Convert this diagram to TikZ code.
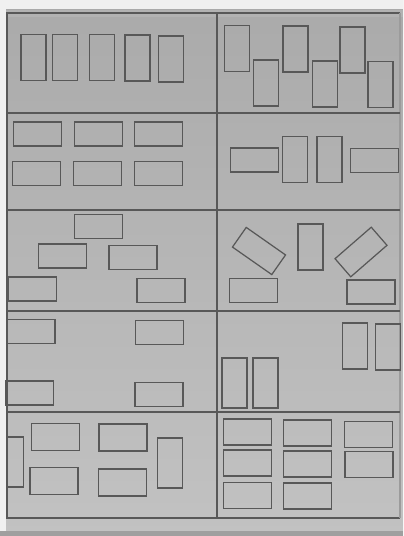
\documentclass[tikz,border=0pt]{standalone}
\usepackage{tikz}
\usetikzlibrary{positioning}
\definecolor{paper}{RGB}{170,170,170}
\definecolor{paperlow}{RGB}{194,194,194}
\definecolor{inkline}{RGB}{88,88,88}
\tikzset{
  % panel grid lines
  gridline/.style={draw=inkline, line width=0.8pt},
  % slots drawn on the sheet
  slotbox/.style={
    rectangle, draw=inkline, line width=0.7pt,
    inner sep=0pt, outer sep=0pt
  },
  tallbox/.style={slotbox, minimum width=0.5cm, minimum height=0.92cm},
  widebox/.style={slotbox, minimum width=0.96cm, minimum height=0.48cm}
}
\begin{document}
\begin{tikzpicture}[x=0.02cm, y=-0.02cm]
  \useasboundingbox (0,0) rectangle (403,536);

  % sheet and edges
  \fill[top color=paper, bottom color=paperlow] (0,0) rectangle (403,536);
  \fill[gray!60] (0,10) rectangle (403,17);
  \fill[gray!12] (0,0) rectangle (403,9);
  \fill[gray!12] (0,0) rectangle (6,536);
  \fill[gray!75] (0,531) rectangle (403,536);

  % frame and panels
  \draw[gridline] (400,13) -- (7,13) -- (7,518) -- (400,518);
  \draw[gridline, draw=inkline!60] (400,13) -- (400,518);
  \draw[gridline] (217,13) -- (217,518);
  \foreach \yy in {113,210,311,412}
    \draw[gridline] (7,\yy) -- (400,\yy);

  % row 1
  \node[tallbox] (a1) at (33.5,57.5) {};
  \node[tallbox] (a2) at (65,57.5) {};
  \node[tallbox] (a3) at (102,57.5) {};
  \node[tallbox] (a4) at (137.5,58) {};
  \node[tallbox] (a5) at (171,59) {};

  \node[tallbox] (b1) at (237,48.5) {};
  \node[tallbox] (b2) at (266,83) {};
  \node[tallbox] (b3) at (295.5,49) {};
  \node[tallbox] (b4) at (325,84) {};
  \node[tallbox] (b5) at (352.5,50) {};
  \node[tallbox] (b6) at (380.5,84.5) {};

  % row 2
  \node[widebox] (c1) at (37.5,134) {};
  \node[widebox] (c2) at (98.5,134) {};
  \node[widebox] (c3) at (158.5,134) {};
  \node[widebox] (c4) at (36.5,173.5) {};
  \node[widebox] (c5) at (97.5,173.5) {};
  \node[widebox] (c6) at (158.5,173.5) {};

  \node[widebox] (d1) at (254.5,160) {};
  \node[tallbox] (d2) at (295,159.5) {};
  \node[tallbox] (d3) at (329.5,159.5) {};
  \node[widebox] (d4) at (374.5,160.5) {};

  % row 3
  \node[widebox] (e1) at (98.5,226.5) {};
  \node[widebox] (e2) at (62.5,256) {};
  \node[widebox] (e3) at (133,257.5) {};
  \node[widebox] (e4) at (32.5,289) {};
  \node[widebox] (e5) at (161,290.5) {};

  \node[widebox, rotate=-35] (f1) at (259,251) {};
  \node[tallbox] (f2) at (310.5,247) {};
  \node[widebox, rotate=41] (f3) at (361,252) {};
  \node[widebox] (f4) at (253.5,290.5) {};
  \node[widebox] (f5) at (371,292) {};

  % row 4
  \node[widebox] (g1) at (31,331.5) {};
  \node[widebox] (g2) at (159.5,332.5) {};
  \node[widebox] (g3) at (29.5,393) {};
  \node[widebox] (g4) at (159,394.5) {};

  \node[tallbox] (h1) at (355,346) {};
  \node[tallbox] (h2) at (388,347) {};
  \node[tallbox, minimum height=1cm] (h3) at (234.5,383) {};
  \node[tallbox, minimum height=1cm] (h4) at (265.5,383) {};

  % row 5
  \node[tallbox, minimum width=0.34cm, minimum height=1cm] (k1) at (15,462) {};
  \node[widebox, minimum height=0.54cm] (k2) at (55.5,437) {};
  \node[widebox, minimum height=0.54cm] (k3) at (123,437.5) {};
  \node[widebox, minimum height=0.54cm] (k4) at (54,481) {};
  \node[widebox, minimum height=0.54cm] (k5) at (122.5,482.5) {};
  \node[tallbox, minimum height=1cm] (k6) at (170,463) {};

  \node[widebox, minimum height=0.52cm] (m1) at (247.5,432) {};
  \node[widebox, minimum height=0.52cm] (m2) at (307.5,433) {};
  \node[widebox, minimum height=0.52cm] (m3) at (368.5,434.5) {};
  \node[widebox, minimum height=0.52cm] (m4) at (247.5,463) {};
  \node[widebox, minimum height=0.52cm] (m5) at (307.5,464) {};
  \node[widebox, minimum height=0.52cm] (m6) at (369,464.5) {};
  \node[widebox, minimum height=0.52cm] (m7) at (247.5,495.5) {};
  \node[widebox, minimum height=0.52cm] (m8) at (307.5,496) {};

\end{tikzpicture}
\end{document}
